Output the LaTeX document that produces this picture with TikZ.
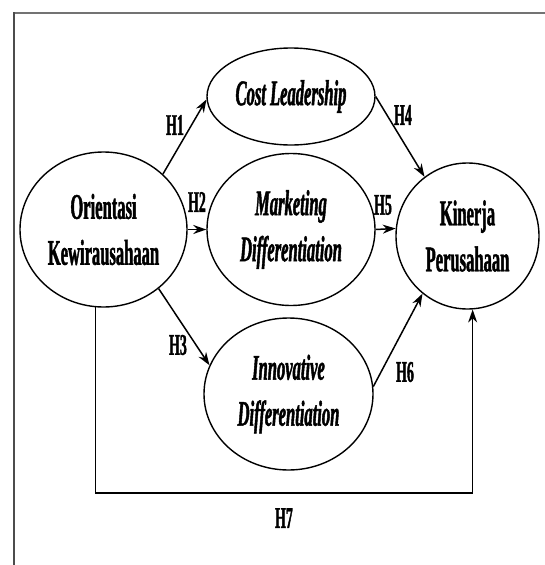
\documentclass[tikz,border=0pt]{standalone}
\usepackage{fontspec}
\setmainfont{Liberation Serif}[FakeStretch=0.46, BoldFeatures={FakeBold=1.2}, BoldItalicFeatures={FakeBold=1.2}]
\usetikzlibrary{arrows.meta,shapes.geometric,positioning}
\tikzset{
    construct/.style={
        ellipse,
        draw,
        line width=1.4pt,
        inner sep=0pt,
        align=center,
        font=\fontsize{36}{46}\selectfont\bfseries
    },
    hyp/.style={
        inner sep=0pt,
        font=\fontsize{30}{34}\selectfont\bfseries
    },
    link/.style={
        line width=1.5pt,
        -{Stealth[length=13pt,width=9pt]}
    }
}

\begin{document}
\begin{tikzpicture}[x=1pt,y=-1pt]
            \useasboundingbox (0,0) rectangle (545,565);
            % frame
            \draw[line width=2.5pt, black!55] (14,13) -- (545,13);
            \draw[line width=1.5pt, black!70] (14,12) -- (14,565);

            \node[construct, minimum width=167pt, minimum height=155pt] (ok) at (103.5,229.5)
              {Orientasi\\Kewirausahaan};
            \node[construct, minimum width=168pt, minimum height=97pt] (cl) at (291,96.5)
              {\itshape Cost Leadership};
            \node[construct, minimum width=168pt, minimum height=152pt] (md) at (291,229.5)
              {\itshape Marketing\\\itshape Differentiation};
            \node[construct, minimum width=169pt, minimum height=152pt] (id) at (288.5,394)
              {\itshape Innovative\\\itshape Differentiation};
            \node[construct, minimum width=143pt, minimum height=146pt] (kp) at (467.5,236)
              {Kinerja\\Perusahaan};

            \foreach \s/\t in {ok.43/cl.182,ok.east/md.west,ok.313/id.160,cl.east/kp.126,md.east/kp.174,id.5/kp.232}
              \draw[link] (\s) -- (\t);

            \coordinate (h7) at (284,493);
            \draw[link] (ok.264) |- (h7) -| (kp.274);

            \foreach \h/\x/\y in {H1/175/125,H2/197/202,H3/178/345,H4/403/115,H5/383/205,H6/405/372}
              \node[hyp] (lbl\h) at (\x,\y) {\h};
            \node[hyp, below=15pt of h7] (lblH7) {H7};
          \end{tikzpicture}
\end{document}
